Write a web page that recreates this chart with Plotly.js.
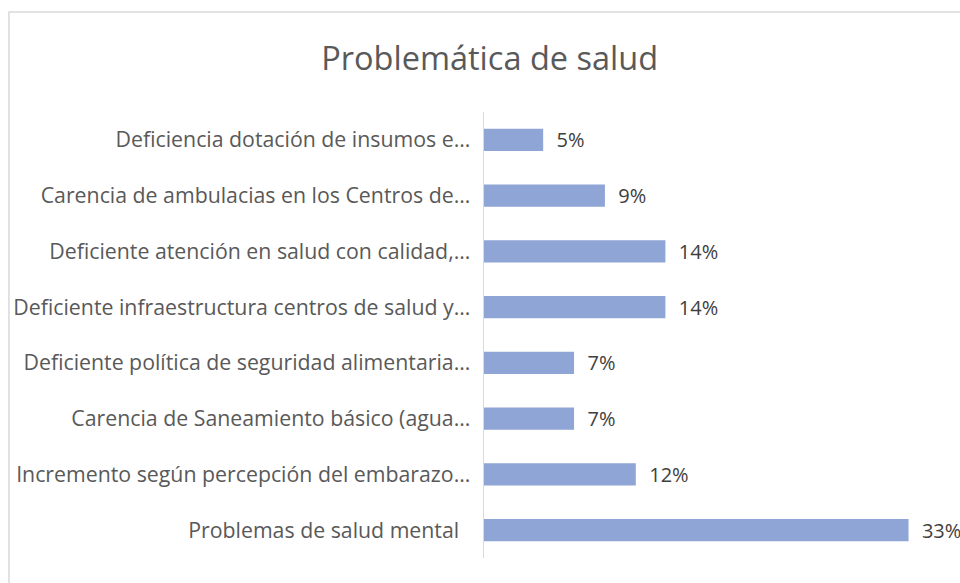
<!DOCTYPE html>
<html>
<head>
<meta charset="utf-8">
<script src="https://cdn.plot.ly/plotly-3.0.1.min.js"></script>
<style>html,body{margin:0;padding:0;background:#fff;}#chart{width:960px;height:583px;}</style>
</head>
<body>
<div id="chart"></div>
<script>
const categories = [
  "Deficiencia dotación de insumos e…",
  "Carencia de ambulacias en los Centros de…",
  "Deficiente atención en salud con calidad,…",
  "Deficiente infraestructura centros de salud y…",
  "Deficiente política de seguridad alimentaria…",
  "Carencia de Saneamiento básico (agua…",
  "Incremento según percepción del embarazo…",
  "Problemas de salud mental\u00a0\u00a0"
];
const shares = [0.046, 0.094, 0.141, 0.141, 0.070, 0.070, 0.118, 0.330];
const chartTitle = "Problemática de salud";

const FONT = '"Open Sans", "Noto Sans", sans-serif';

const trace = {
  type: 'bar',
  orientation: 'h',
  y: categories,
  x: shares,
  width: 0.4,
  marker: {color: '#8FA5D6'},
  texttemplate: '  %{x:.0%}',
  textposition: 'outside',
  constraintext: 'none',
  cliponaxis: false,
  textfont: {family: FONT, size: 20, color: '#404040'},
  hoverinfo: 'none'
};

const layout = {
  width: 960, height: 583,
  margin: {l: 484, r: 0, t: 112, b: 25},
  paper_bgcolor: '#fff', plot_bgcolor: '#fff',
  showlegend: false,
  title: {text: chartTitle, x: 0.51, xanchor: 'center', y: 0.9, yanchor: 'middle',
          font: {family: FONT, size: 32.5, color: '#595959'}},
  xaxis: {range: [0, 0.37], visible: false, fixedrange: true},
  yaxis: {autorange: 'reversed', showline: true, linecolor: '#d9d9d9', linewidth: 1.5,
          ticks: '', ticklabelstandoff: 8, showgrid: false, zeroline: false,
          tickfont: {family: FONT, size: 21.3, color: '#595959'}},
  shapes: [{type: 'rect', xref: 'paper', yref: 'paper', x0: -0.998, x1: 1.2, y0: -0.2, y1: 1.224,
            line: {color: '#d9d9d9', width: 1.5}, fillcolor: 'rgba(0,0,0,0)', layer: 'below'}]
};

Plotly.newPlot('chart', [trace], layout, {displayModeBar: false, staticPlot: true});
</script>
</body>
</html>
